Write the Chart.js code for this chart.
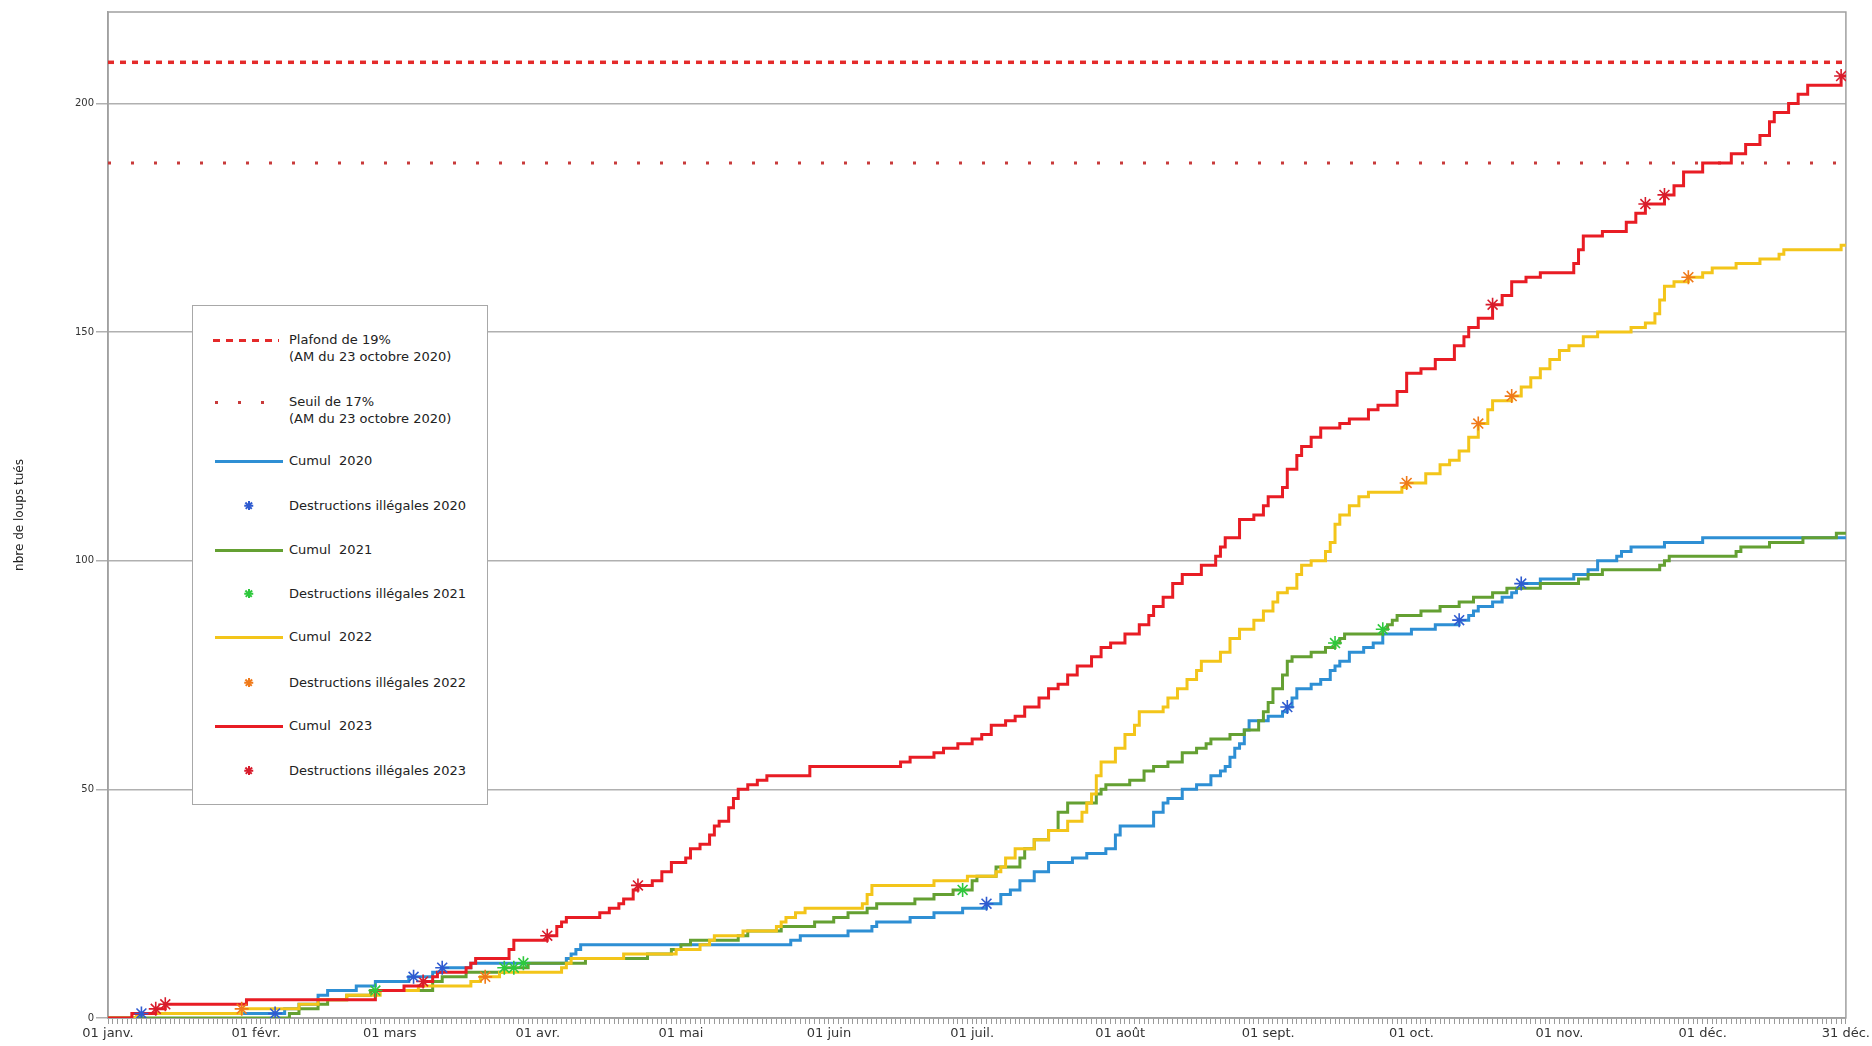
<!DOCTYPE html>
<html>
<head>
<meta charset="utf-8">
<script src="https://cdn.jsdelivr.net/npm/chart.js@4.4.1/dist/chart.umd.min.js"></script>
<style>
html,body{margin:0;padding:0;background:#fff;}
#wrap{position:relative;width:1872px;height:1046px;}
#legend{position:absolute;left:192px;top:305px;width:296px;height:500px;background:#fff;border:1px solid #a8a8a8;box-sizing:border-box;font-family:"DejaVu Sans",sans-serif;font-size:13px;color:#222;}
.sw{position:absolute;height:3px;}
.tx{position:absolute;left:96px;white-space:pre;line-height:17px;}
.star{position:absolute;width:9px;height:9px;}
.star i{position:absolute;left:4px;top:0;width:1.5px;height:9px;}
</style>
</head>
<body>
<div id="wrap">
<canvas id="c" width="1872" height="1046"></canvas>
<div id="legend"></div>
</div>
<script>
// ---- Data ----
const monthDays   = [0, 31, 59, 90, 120, 151, 181, 212, 243, 273, 304, 334, 364];
const monthLabels = ['01 janv.', '01 févr.', '01 mars', '01 avr.', '01 mai', '01 juin', '01 juil.', '01 août', '01 sept.', '01 oct.', '01 nov.', '01 déc.', '31 déc.'];
const yTicks = [0, 50, 100, 150, 200];

const plafond = 209;   // Plafond de 19%
const seuil   = 187;   // Seuil de 17%

const days2020 = [0,7,37,40,44,46,52,56,63,68,70,76,96,97,98,99,143,145,155,160,161,168,173,179,184,187,189,191,194,197,202,205,209,211,212,219,221,222,225,228,231,233,234,235,236,237,238,239,243,246,247,248,249,252,254,256,257,258,260,263,265,267,273,278,283,285,286,287,290,292,294,295,296,300,307,310,312,316,317,319,326,334,364];
const cum2020  = [0,1,2,3,5,6,7,8,9,10,11,12,13,14,15,16,17,18,19,20,21,22,23,24,25,27,28,30,32,34,35,36,37,40,42,45,47,48,50,51,53,54,55,57,59,60,63,65,66,67,68,70,72,73,74,76,77,78,80,81,82,84,85,86,87,88,89,90,91,92,93,94,95,96,97,98,100,101,102,103,104,105,105];

const days2021 = [0,38,40,44,46,50,55,68,70,75,83,88,100,113,118,120,122,132,134,141,148,152,155,159,161,169,173,177,181,182,186,191,192,194,197,199,201,207,208,209,214,217,219,222,225,228,230,231,235,238,241,242,243,244,246,247,248,252,255,257,258,259,267,268,269,270,275,279,283,286,290,293,300,308,310,313,325,326,327,341,342,348,355,362,364];
const cum2021  = [0,1,2,3,4,5,6,8,9,10,11,12,13,14,15,16,17,18,19,20,21,22,23,24,25,26,27,28,30,31,33,35,37,39,41,45,47,49,50,51,52,54,55,56,58,59,60,61,62,63,65,67,69,72,75,78,79,80,81,82,83,84,85,86,87,88,89,90,91,92,93,94,95,96,97,98,99,100,101,102,103,104,105,106,106];

const days2022 = [0,6,28,40,44,50,57,65,76,78,82,95,96,97,108,119,124,126,127,133,140,141,142,144,146,158,159,160,173,180,186,187,188,190,194,197,201,204,205,206,207,208,211,213,215,216,221,222,224,226,228,229,233,235,237,240,242,244,245,247,249,250,252,255,256,257,258,260,262,264,271,272,276,279,281,283,285,287,289,290,294,296,298,300,302,304,306,309,312,319,322,324,325,326,328,331,334,336,341,346,350,351,363,364];
const cum2022  = [0,1,2,3,4,5,6,7,8,9,10,11,12,13,14,15,16,17,18,19,20,21,22,23,24,25,27,29,30,31,32,33,35,37,39,41,43,45,47,49,53,56,59,62,64,67,68,70,72,74,76,78,80,83,85,87,89,91,93,94,97,99,100,102,104,108,110,112,114,115,116,117,119,121,122,124,127,130,133,135,136,138,140,142,144,146,147,149,150,151,152,154,157,160,161,162,163,164,165,166,167,168,169,169];

const days2023 = [0,5,10,12,29,56,62,66,68,69,75,76,77,84,85,92,94,95,96,103,105,107,108,110,111,114,116,118,121,122,124,126,127,128,130,131,132,134,136,138,147,166,168,173,175,178,181,183,185,188,190,192,195,197,199,201,203,206,208,210,213,216,218,219,221,223,225,229,232,233,234,237,240,242,243,246,247,249,250,252,254,258,260,264,266,270,272,275,278,282,284,285,287,290,292,294,297,300,307,308,309,313,318,320,322,326,328,330,334,340,343,346,348,349,352,354,356,363,364];
const cum2023  = [0,1,2,3,4,6,7,8,9,10,11,12,13,15,17,18,20,21,22,23,24,25,26,28,29,30,32,34,35,37,38,40,42,43,46,48,50,51,52,53,55,56,57,58,59,60,61,62,64,65,66,68,70,72,73,75,77,79,81,82,84,86,88,90,92,95,97,99,101,103,105,109,110,112,114,116,120,123,125,127,129,130,131,133,134,137,141,142,144,147,149,151,153,156,158,161,162,163,165,168,171,172,174,176,178,180,182,185,187,189,191,193,196,198,200,202,204,206,206];

// illegal destructions (stars)
const illDays2020 = [7, 35, 64, 70, 184, 247, 283, 296];
const ill2020     = [1, 1, 9, 11, 25, 68, 87, 95];
const illDays2021 = [56, 83, 85, 87, 179, 257, 267];
const ill2021     = [6, 11, 11, 12, 28, 82, 85];
const illDays2022 = [28, 79, 272, 287, 294, 331];
const ill2022     = [2, 9, 117, 130, 136, 162];
const illDays2023 = [10, 12, 66, 92, 111, 290, 322, 326, 363];
const ill2023     = [2, 3, 8, 18, 29, 156, 178, 180, 206];

// ---- Styles ----
const C = {
  y2020: '#2e8fd4', y2021: '#64a032', y2022: '#f3c51a', y2023: '#e81c24',
  s2020: '#2f5bd0', s2021: '#2ec83c', s2022: '#f07a1a', s2023: '#d81c2c',
  limit: '#e42a2a', seuil: '#c83a3a', grid: '#b0b0b0', axis: '#a0a0a0'
};

const pts = (xs, ys) => xs.map((d, i) => ({x: d, y: ys[i]}));
const lineDs = (label, xs, ys, color, order) => ({
  label, data: pts(xs, ys), borderColor: color, backgroundColor: color,
  borderWidth: 3, pointRadius: 0, stepped: true, fill: false, order
});
const starDs = (label, xs, ys, color) => ({
  label, data: pts(xs, ys), showLine: false, pointStyle: 'star',
  pointRadius: 7, pointBorderWidth: 1.6, borderColor: color, backgroundColor: color, order: 0
});

const frame = {
  id: 'frame',
  beforeDatasetsDraw(chart) {
    const a = chart.chartArea, ctx = chart.ctx;
    ctx.save();
    ctx.strokeStyle = C.axis; ctx.lineWidth = 1.5;
    ctx.strokeRect(a.left, a.top, a.right - a.left, a.bottom - a.top);
    ctx.restore();
  }
};

new Chart(document.getElementById('c'), {
  type: 'line',
  data: {
    datasets: [
      {label: 'Plafond de 19%', data: [{x: monthDays[0], y: plafond}, {x: monthDays[monthDays.length-1], y: plafond}],
       borderColor: C.limit, borderWidth: 3.5, borderDash: [6, 6], pointRadius: 0, order: 6},
      {label: 'Seuil de 17%', data: [{x: monthDays[0], y: seuil}, {x: monthDays[monthDays.length-1], y: seuil}],
       borderColor: C.seuil, borderWidth: 3, borderDash: [3, 20], pointRadius: 0, order: 6},
      lineDs('Cumul 2020', days2020, cum2020, C.y2020, 4),
      lineDs('Cumul 2021', days2021, cum2021, C.y2021, 3),
      lineDs('Cumul 2022', days2022, cum2022, C.y2022, 2),
      lineDs('Cumul 2023', days2023, cum2023, C.y2023, 1),
      starDs('Destructions illégales 2020', illDays2020, ill2020, C.s2020),
      starDs('Destructions illégales 2021', illDays2021, ill2021, C.s2021),
      starDs('Destructions illégales 2022', illDays2022, ill2022, C.s2022),
      starDs('Destructions illégales 2023', illDays2023, ill2023, C.s2023)
    ]
  },
  options: {
    responsive: false,
    animation: false,
    layout: {padding: {top: 12, right: 25, left: 0, bottom: 0}},
    plugins: {legend: {display: false}, tooltip: {enabled: false}},
    scales: {
      x: {
        type: 'linear', min: monthDays[0], max: monthDays[monthDays.length-1],
        afterBuildTicks: s => { s.ticks = Array.from({length: monthDays[monthDays.length-1] + 1}, (_, d) => ({value: d})); },
        afterFit: s => { s.height = 28; },
        ticks: {
          autoSkip: false, maxRotation: 0, minRotation: 0, padding: 2,
          font: {family: 'DejaVu Sans', size: 13}, color: '#333',
          callback: v => { const i = monthDays.indexOf(v); return i >= 0 ? monthLabels[i] : ''; }
        },
        grid: {drawOnChartArea: false, drawTicks: true, tickLength: 6, color: '#9a9a9a', lineWidth: 1},
        border: {color: C.axis, width: 1.5}
      },
      y: {
        min: 0, max: 220,
        afterBuildTicks: s => { s.ticks = yTicks.map(v => ({value: v})); },
        afterFit: s => { s.width = 108; },
        ticks: {font: {family: 'DejaVu Sans', size: 10}, color: '#333', padding: 2},
        grid: {color: C.grid, lineWidth: 1.5, tickLength: 12},
        border: {color: C.axis, width: 1.5},
        title: {display: true, text: 'nbre de loups tués', font: {family: 'DejaVu Sans', size: 12}, color: '#222', padding: {top: 13, bottom: 0}}
      }
    }
  },
  plugins: [frame]
});

// ---- HTML legend ----
const legendItems = [
  {kind: 'dash',  color: C.limit, y: 34,  text: 'Plafond de 19%\n(AM du 23 octobre 2020)'},
  {kind: 'dot',   color: C.seuil, y: 96,  text: 'Seuil de 17%\n(AM du 23 octobre 2020)'},
  {kind: 'line',  color: C.y2020, y: 155, text: 'Cumul  2020'},
  {kind: 'star',  color: C.s2020, y: 200, text: 'Destructions illégales 2020'},
  {kind: 'line',  color: C.y2021, y: 244, text: 'Cumul  2021'},
  {kind: 'star',  color: C.s2021, y: 288, text: 'Destructions illégales 2021'},
  {kind: 'line',  color: C.y2022, y: 331, text: 'Cumul  2022'},
  {kind: 'star',  color: C.s2022, y: 377, text: 'Destructions illégales 2022'},
  {kind: 'line',  color: C.y2023, y: 420, text: 'Cumul  2023'},
  {kind: 'star',  color: C.s2023, y: 465, text: 'Destructions illégales 2023'}
];
const lg = document.getElementById('legend');
legendItems.forEach(it => {
  let sym;
  if (it.kind === 'star') {
    sym = document.createElement('div');
    sym.className = 'star';
    sym.style.left = '51px'; sym.style.top = (it.y - 5) + 'px';
    [0, 45, 90, 135].forEach(a => {
      const b = document.createElement('i');
      b.style.background = it.color; b.style.transform = 'rotate(' + a + 'deg)';
      sym.appendChild(b);
    });
  } else {
    sym = document.createElement('div');
    sym.className = 'sw';
    sym.style.top = (it.y - 1.5) + 'px';
    if (it.kind === 'line') { sym.style.left = '22px'; sym.style.width = '68px'; sym.style.background = it.color; }
    else if (it.kind === 'dash') { sym.style.left = '20px'; sym.style.width = '66px'; sym.style.background = 'repeating-linear-gradient(to right,' + it.color + ' 0 7px, transparent 7px 13px)'; }
    else { sym.style.left = '22px'; sym.style.width = '60px'; sym.style.height = '3px'; sym.style.background = 'repeating-linear-gradient(to right,' + it.color + ' 0 3px, transparent 3px 23px)'; }
  }
  lg.appendChild(sym);
  const t = document.createElement('div');
  t.className = 'tx';
  t.style.top = (it.y - 9) + 'px';
  t.textContent = it.text;
  lg.appendChild(t);
});
</script>
</body>
</html>
